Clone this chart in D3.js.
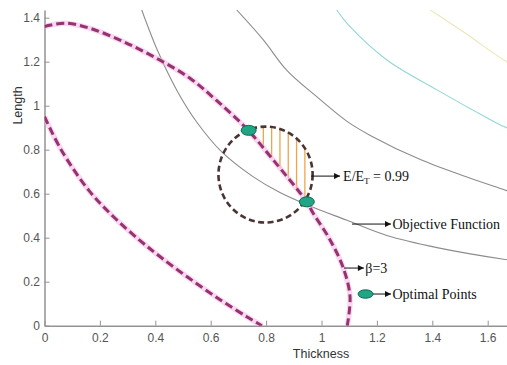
<!DOCTYPE html>
<html>
<head>
<meta charset="utf-8">
<script src="https://cdn.jsdelivr.net/npm/d3@7"></script>
<style>
  html, body { margin: 0; padding: 0; background: #fff; }
  svg { display: block; }
</style>
</head>
<body>
<svg id="chart" width="507" height="365"></svg>
<script>
// Axis ticks
const xTicks = [0, 0.2, 0.4, 0.6, 0.8, 1, 1.2, 1.4, 1.6];
const xTickLabels = ["0", "0.2", "0.4", "0.6", "0.8", "1", "1.2", "1.4", "1.6"];
const yTicks = [0, 0.2, 0.4, 0.6, 0.8, 1, 1.2, 1.4];
const yTickLabels = ["0", "0.2", "0.4", "0.6", "0.8", "1", "1.2", "1.4"];

// Reliability contour beta = 3 (two branches inside the first quadrant)
const betaUpper = [[0, 1.36], [0.074, 1.375], [0.164, 1.352], [0.285, 1.291], [0.411, 1.211],
  [0.525, 1.125], [0.62, 1.025], [0.731, 0.894], [0.826, 0.753], [0.946, 0.564],
  [0.97, 0.511], [1.031, 0.39], [1.079, 0.261], [1.103, 0.132], [1.093, 0]];
const betaLower = [[0, 0.95], [0.06, 0.80], [0.16, 0.615], [0.25, 0.494], [0.345, 0.387],
  [0.42, 0.311], [0.525, 0.213], [0.634, 0.118], [0.73, 0.041], [0.785, 0]];

// Objective function contours
const objA = [[0.351, 1.435], [0.41, 1.245], [0.48, 1.065], [0.55, 0.925], [0.64, 0.79],
  [0.75, 0.68], [0.85, 0.605], [0.947, 0.55], [1.09, 0.48], [1.236, 0.41], [1.417, 0.355],
  [1.658, 0.302], [1.70, 0.295]];
const objB = [[0.694, 1.435], [0.79, 1.299], [0.874, 1.162], [0.983, 1.041], [1.091, 0.93],
  [1.176, 0.865], [1.357, 0.755], [1.537, 0.67], [1.662, 0.617], [1.70, 0.60]];
const objC = [[1.055, 1.435], [1.103, 1.359], [1.236, 1.208], [1.417, 1.072], [1.597, 0.945],
  [1.658, 0.905], [1.70, 0.885]];
const objD = [[1.393, 1.435], [1.513, 1.335], [1.658, 1.208], [1.70, 1.18]];

// Efficiency contour E/E_T = 0.99 (centre and semi-axes, data units)
const effCenter = [0.798, 0.687];
const effRadii = [0.170, 0.218];

// Hatched feasible region, hatch abscissae
const hatchX = [0.79, 0.82, 0.85, 0.88, 0.91, 0.94];

// Optimal design points
const optimalPoints = [[0.737, 0.888], [0.947, 0.563]];

const labels = { eff: "E/E", effSub: "T", effTail: " = 0.99", obj: "Objective Function",
  beta: "β=3", opt: "Optimal Points", xTitle: "Thickness", yTitle: "Length" };

const svg = d3.select("#chart");
const x0 = 44.5, y0 = 325.7, kx = 277, ky = 220;
const x = d3.scaleLinear().domain([0, 1.7]).range([x0, x0 + 1.7 * kx]);
const y = d3.scaleLinear().domain([0, 1.435]).range([y0, y0 - 1.435 * ky]);

const defs = svg.append("defs");
defs.append("clipPath").attr("id", "plotClip").append("rect")
  .attr("x", x(0)).attr("y", y(1.435)).attr("width", x(1.7) - x(0)).attr("height", y(0) - y(1.435));
defs.append("marker").attr("id", "arrow").attr("viewBox", "0 0 10 10")
  .attr("refX", 10).attr("refY", 5).attr("markerWidth", 7).attr("markerHeight", 6)
  .attr("markerUnits", "userSpaceOnUse").attr("orient", "auto")
  .append("path").attr("d", "M0,0 L10,5 L0,10 Z").attr("fill", "#111");

const line = d3.line().x(d => x(d[0])).y(d => y(d[1])).curve(d3.curveCatmullRom.alpha(0.5));

// Axes
const gx = svg.append("g").attr("transform", `translate(0,${y0})`)
  .call(d3.axisBottom(x).tickValues(xTicks).tickFormat((d, i) => xTickLabels[i])
    .tickSizeInner(-5).tickSizeOuter(0).tickPadding(7.5));
const gy = svg.append("g").attr("transform", `translate(${x0},0)`)
  .call(d3.axisLeft(y).tickValues(yTicks).tickFormat((d, i) => yTickLabels[i])
    .tickSizeInner(-5).tickSizeOuter(0).tickPadding(4.5));
[gx, gy].forEach(g => {
  g.select(".domain").attr("stroke", "#939393").attr("stroke-width", 1.5);
  g.selectAll(".tick line").attr("stroke", "#939393").attr("stroke-width", 1);
  g.selectAll(".tick text").attr("fill", "#555")
    .style("font-family", "'Liberation Sans', Arial, sans-serif").style("font-size", "12px");
});

svg.append("text").attr("x", 321).attr("y", 357.5).attr("text-anchor", "middle")
  .attr("fill", "#333").style("font-family", "'Liberation Sans', Arial, sans-serif")
  .style("font-size", "12.5px").text(labels.xTitle);
svg.append("text").attr("transform", "translate(22,105.5) rotate(-90)").attr("text-anchor", "middle")
  .attr("fill", "#333").style("font-family", "'Liberation Sans', Arial, sans-serif")
  .style("font-size", "12.5px").text(labels.yTitle);

const plot = svg.append("g").attr("clip-path", "url(#plotClip)");

// Objective function contours
const contours = [
  { pts: objA, color: "#8c8c8c" },
  { pts: objB, color: "#8c8c8c" },
  { pts: objC, color: "#93d6d6" },
  { pts: objD, color: "#ece6b8" }
];
plot.selectAll("path.obj").data(contours).join("path").attr("class", "obj")
  .attr("d", d => line(d.pts)).attr("fill", "none")
  .attr("stroke", d => d.color).attr("stroke-width", 1.1);

// Hatching: inside the efficiency contour and outside the beta contour
defs.append("clipPath").attr("id", "effClip").append("ellipse")
  .attr("cx", x(effCenter[0])).attr("cy", y(effCenter[1]))
  .attr("rx", x(effRadii[0]) - x(0)).attr("ry", y(0) - y(effRadii[1]));
defs.append("clipPath").attr("id", "outsideBeta").append("path")
  .attr("d", line(betaUpper) + `L${x(1.7)},${y(0)}L${x(1.7)},${y(1.5)}L${x(0)},${y(1.5)}Z`);
plot.append("g").attr("clip-path", "url(#effClip)")
  .append("g").attr("clip-path", "url(#outsideBeta)")
  .selectAll("line").data(hatchX).join("line")
  .attr("x1", d => x(d)).attr("x2", d => x(d))
  .attr("y1", y(effCenter[1] + effRadii[1])).attr("y2", y(effCenter[1] - effRadii[1]))
  .attr("stroke", "#f0a44a").attr("stroke-width", 1.3);

// Beta = 3 contour: soft magenta underlay with dark dashes
[betaUpper, betaLower].forEach(pts => {
  plot.append("path").attr("d", line(pts)).attr("fill", "none")
    .attr("stroke", "#f6b6e6").attr("stroke-width", 5.5).attr("stroke-opacity", 0.55);
  plot.append("path").attr("d", line(pts)).attr("fill", "none")
    .attr("stroke", "#95336f").attr("stroke-width", 3).attr("stroke-dasharray", "8,4");
});

// Efficiency contour
plot.append("ellipse")
  .attr("cx", x(effCenter[0])).attr("cy", y(effCenter[1]))
  .attr("rx", x(effRadii[0]) - x(0)).attr("ry", y(0) - y(effRadii[1]))
  .attr("fill", "none").attr("stroke", "#4a3434").attr("stroke-width", 2.6)
  .attr("stroke-dasharray", "6,3.5");

// Optimal points
const marker = (sel) => sel.attr("rx", 7.5).attr("ry", 5)
  .attr("fill", "#22a584").attr("stroke", "#0f6b52").attr("stroke-width", 1);
svg.selectAll("ellipse.opt").data(optimalPoints).join("ellipse").attr("class", "opt")
  .attr("cx", d => x(d[0])).attr("cy", d => y(d[1])).call(marker);

// Annotations
const serif = "'Liberation Serif', 'Times New Roman', serif";
function arrow(xa, xb, yv) {
  svg.append("line").attr("x1", x(xa)).attr("x2", x(xb)).attr("y1", y(yv)).attr("y2", y(yv))
    .attr("stroke", "#111").attr("stroke-width", 1).attr("marker-end", "url(#arrow)");
}
function note(xv, yv) {
  return svg.append("text").attr("x", x(xv)).attr("y", y(yv)).attr("dy", "0.33em")
    .attr("fill", "#111").style("font-family", serif).style("font-size", "14px");
}

arrow(0.962, 1.067, 0.68);
const te = note(1.078, 0.68);
te.append("tspan").text(labels.eff);
te.append("tspan").attr("dy", 3).style("font-size", "9px").text(labels.effSub);
te.append("tspan").attr("dy", -3).text(labels.effTail);

arrow(1.11, 1.251, 0.462);
note(1.256, 0.462).text(labels.obj);

arrow(1.081, 1.153, 0.262);
note(1.158, 0.262).text(labels.beta);

svg.append("ellipse").attr("cx", x(1.159)).attr("cy", y(0.144)).call(marker).attr("ry", 4.2);
arrow(1.186, 1.251, 0.144);
note(1.256, 0.144).text(labels.opt);
</script>
</body>
</html>
